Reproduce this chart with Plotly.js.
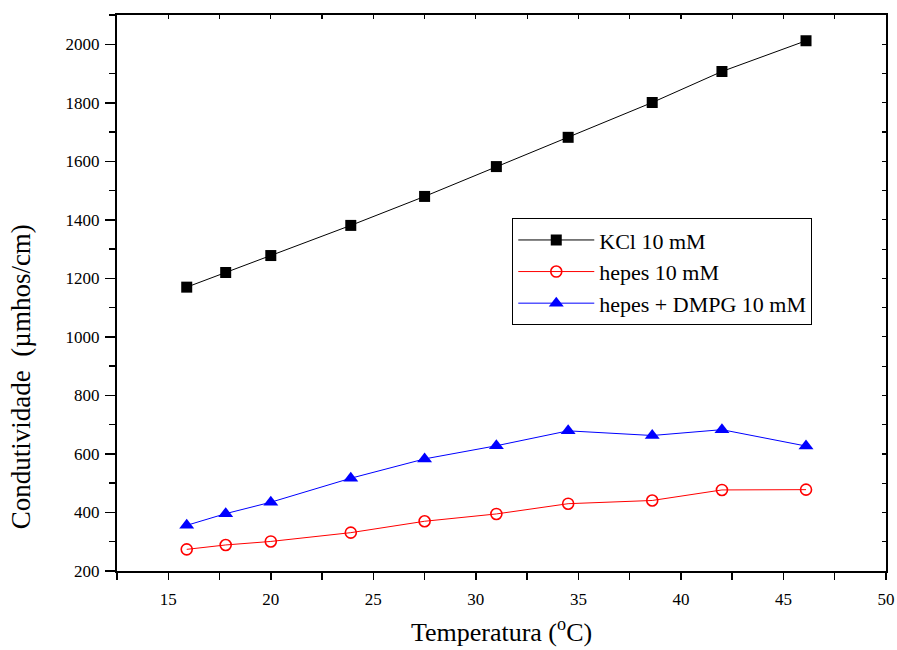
<!DOCTYPE html>
<html>
<head>
<meta charset="utf-8">
<script src="https://cdn.plot.ly/plotly-3.0.1.min.js"></script>
<style>
  html, body { margin: 0; padding: 0; background: #fff; }
  #chart { width: 897px; height: 650px; }
</style>
</head>
<body>
<div id="chart"></div>
<script>
// Temperature (°C) at which each conductivity reading was taken
const temperatura = [15.9, 17.8, 20.0, 23.9, 27.5, 31.0, 34.5, 38.6, 42.0, 46.1];

// Conductivity readings (µmhos/cm)
const kcl = [1170, 1220, 1278, 1381, 1480, 1582, 1682, 1801, 1907, 2012];
const hepes = [274, 289, 301, 331, 370, 395, 430, 441, 477, 478];
const hepesDmpg = [356, 396, 435, 517, 583, 628, 679, 663, 683, 627];

const seriesNames = ['KCl 10 mM', 'hepes 10 mM', 'hepes + DMPG 10 mM'];

const FONT = 'Liberation Serif';
const xRange = [12.5, 50];
const yRange = [200, 2100];

const traces = [
  {
    x: temperatura, y: kcl, name: seriesNames[0],
    type: 'scatter', mode: 'lines+markers',
    line: { color: '#000000', width: 1 },
    marker: { symbol: 'square', size: 11, color: '#000000' }
  },
  {
    x: temperatura, y: hepes, name: seriesNames[1],
    type: 'scatter', mode: 'lines+markers',
    line: { color: '#ff0000', width: 1 },
    marker: { symbol: 'circle-open', size: 11, color: '#ff0000', line: { width: 1.6, color: '#ff0000' } }
  },
  {
    x: temperatura, y: hepesDmpg, name: seriesNames[2],
    type: 'scatter', mode: 'lines+markers',
    line: { color: '#0000ff', width: 1 },
    marker: { symbol: 'triangle-up', size: 13, color: '#0000ff' }
  },
  // empty trace that hosts the top/right frame axes
  { x: [], y: [], xaxis: 'x2', yaxis: 'y2', showlegend: false, hoverinfo: 'skip', type: 'scatter' }
];

const layout = {
  width: 897,
  height: 650,
  margin: { l: 117, r: 11, t: 15, b: 79 },
  paper_bgcolor: '#ffffff',
  plot_bgcolor: '#ffffff',
  font: { family: FONT, color: '#000000' },
  showlegend: true,
  legend: {
    x: 0.514, y: 0.6346, xanchor: 'left', yanchor: 'top',
    bgcolor: '#ffffff', bordercolor: '#000000', borderwidth: 1,
    font: { family: FONT, size: 22, color: '#000000' },
    itemwidth: 76
  },
  xaxis: {
    range: xRange, autorange: false,
    showgrid: false, zeroline: false,
    showline: true, linecolor: '#000000', linewidth: 2,
    ticks: 'outside', ticklen: 7, tickwidth: 1.5, tickcolor: '#000000',
    tick0: 15, dtick: 5,
    minor: { ticks: 'outside', ticklen: 7, tickwidth: 1.5, tickcolor: '#000000', dtick: 2.5, tick0: 15, showgrid: false },
    tickfont: { family: FONT, size: 17, color: '#000000' },
    ticklabelstandoff: 5,
    title: { text: 'Temperatura (<sup>o</sup>C)', font: { family: FONT, size: 26, color: '#000000' }, standoff: 14 }
  },
  yaxis: {
    range: yRange, autorange: false,
    showgrid: false, zeroline: false,
    showline: true, linecolor: '#000000', linewidth: 2,
    ticks: 'outside', ticklen: 10, tickwidth: 1.5, tickcolor: '#000000',
    tick0: 200, dtick: 200,
    minor: { ticks: 'outside', ticklen: 6, tickwidth: 1.5, tickcolor: '#000000', dtick: 100, tick0: 200, showgrid: false },
    tickfont: { family: FONT, size: 17, color: '#000000' },
    ticklabelstandoff: 2
  },
  xaxis2: {
    overlaying: 'x', side: 'top', anchor: 'y2',
    range: xRange, autorange: false,
    showgrid: false, zeroline: false,
    showline: true, linecolor: '#000000', linewidth: 2,
    ticks: 'inside', ticklen: 4, tickwidth: 1.2, tickcolor: '#000000',
    tick0: 15, dtick: 2.5, showticklabels: false
  },
  yaxis2: {
    overlaying: 'y', side: 'right', anchor: 'x2',
    range: yRange, autorange: false,
    showgrid: false, zeroline: false,
    showline: true, linecolor: '#000000', linewidth: 2,
    ticks: 'inside', ticklen: 4, tickwidth: 1.2, tickcolor: '#000000',
    tick0: 200, dtick: 100, showticklabels: false
  },
  annotations: [
    {
      text: 'Condutividade  (µmhos/cm)',
      xref: 'paper', yref: 'paper',
      x: -0.1248, y: 0.3487,
      xanchor: 'center', yanchor: 'middle',
      textangle: -90, showarrow: false,
      font: { family: FONT, size: 27, color: '#000000' }
    }
  ]
};

Plotly.newPlot('chart', traces, layout, { displayModeBar: false, staticPlot: true });
</script>
</body>
</html>
